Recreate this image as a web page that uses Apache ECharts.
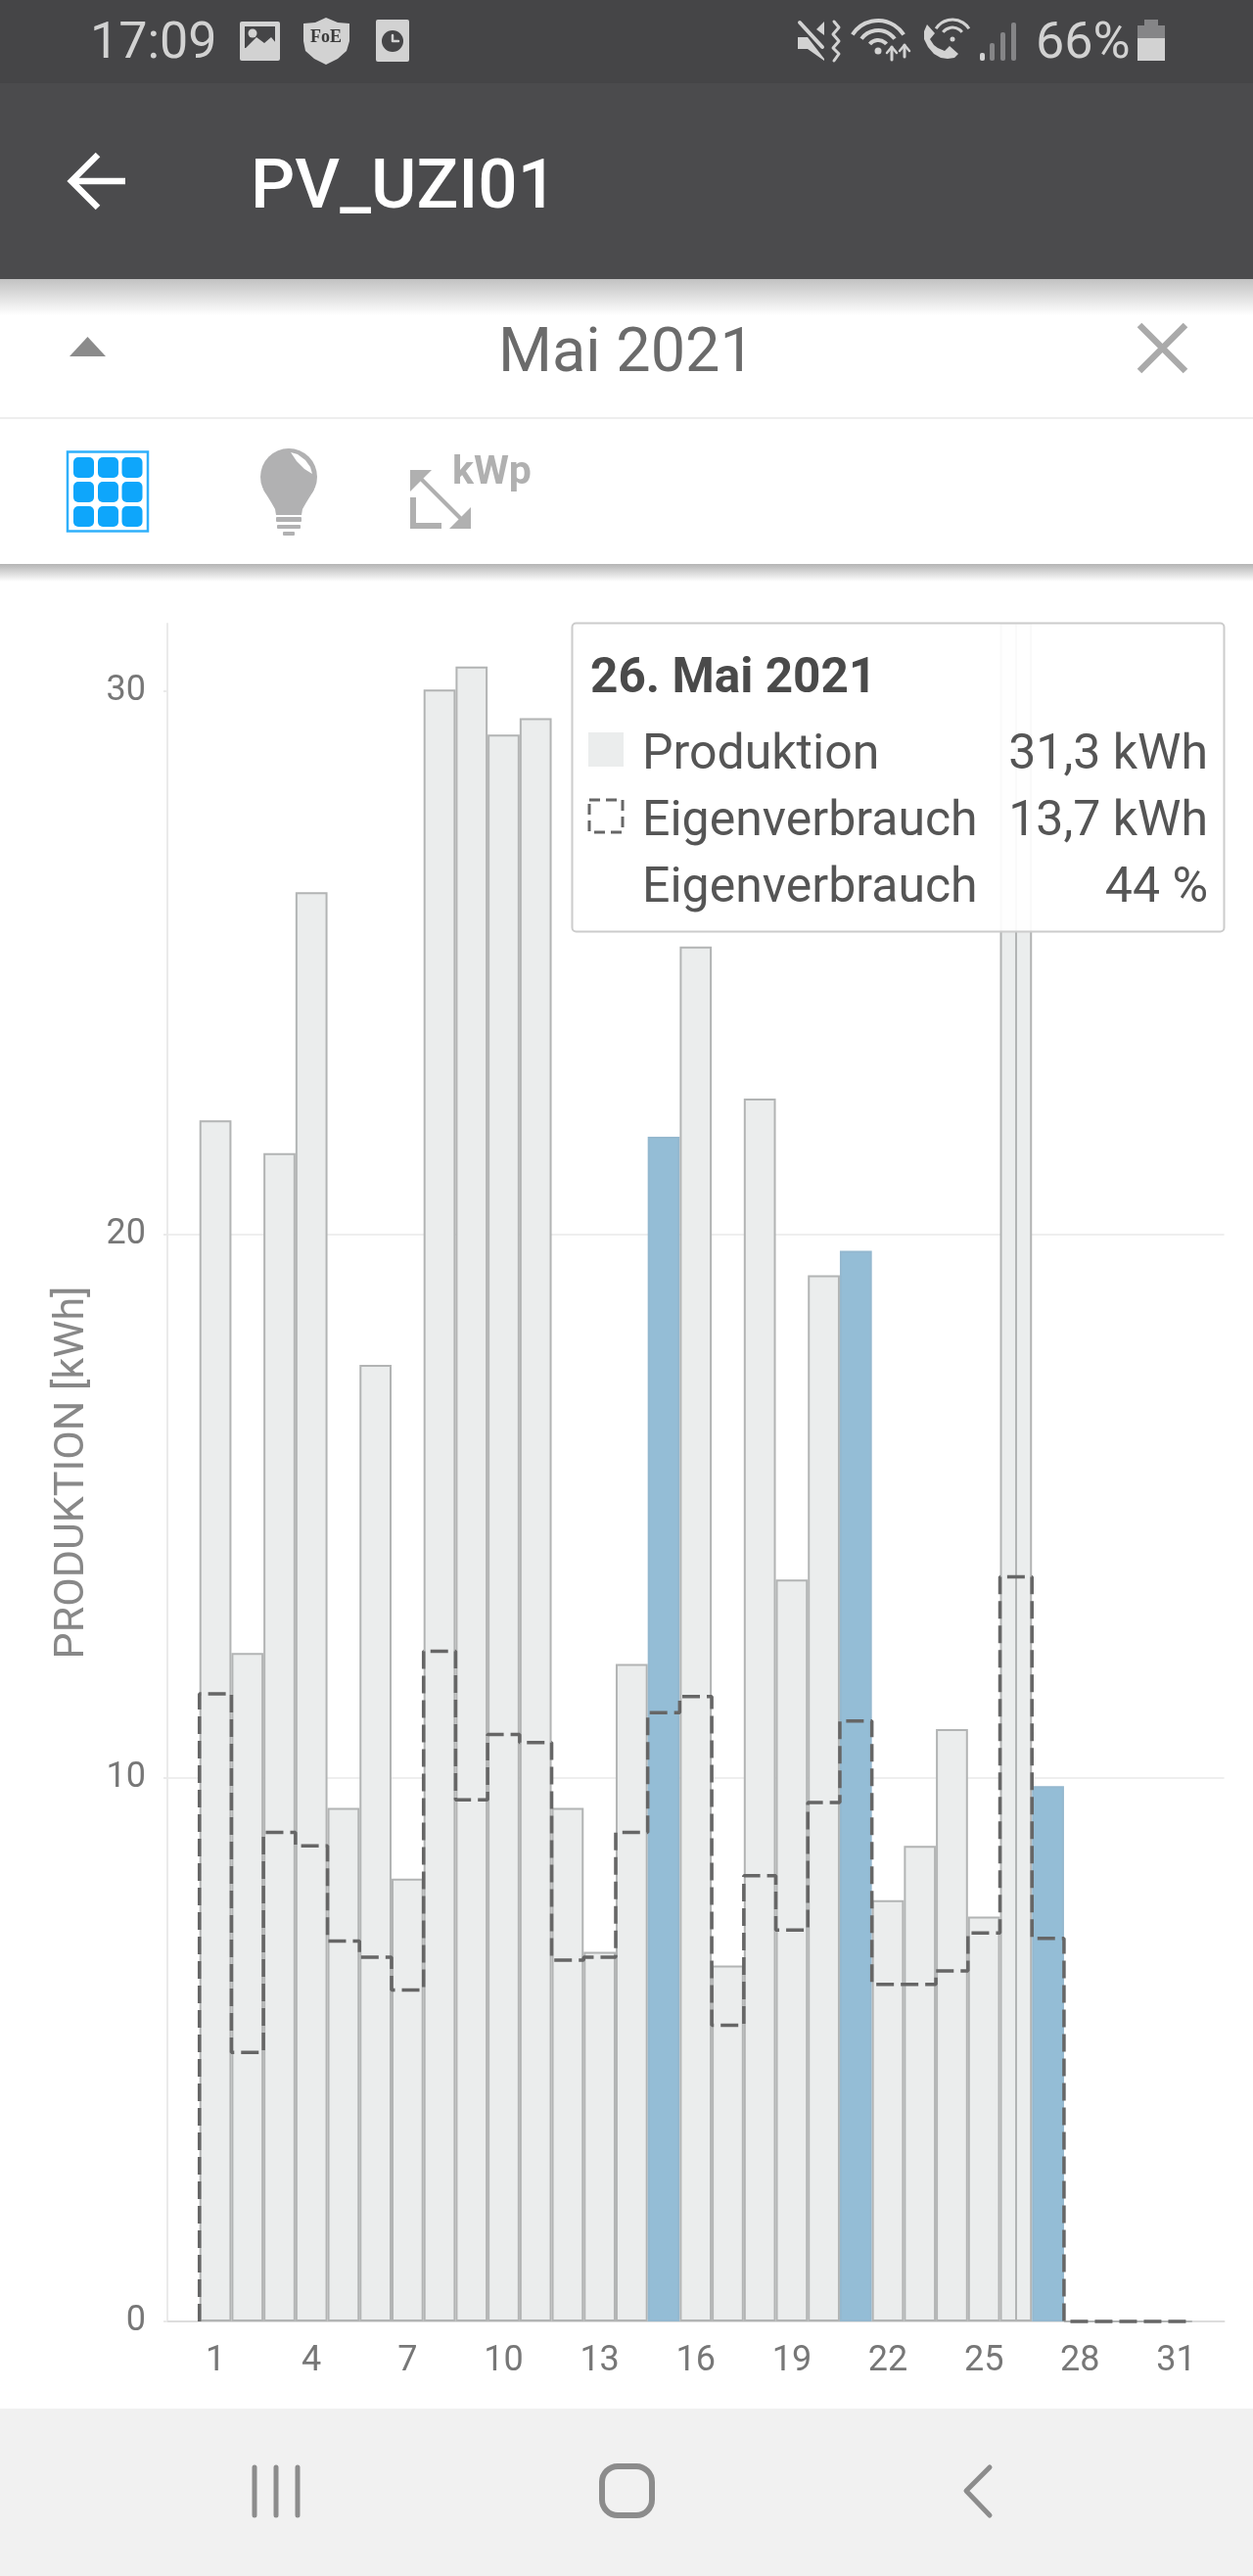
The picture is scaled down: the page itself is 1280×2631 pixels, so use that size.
<!DOCTYPE html>
<html><head><meta charset="utf-8">
<style>html,body{margin:0;padding:0;background:#fff}#c{width:1280px;height:2631px}</style>
<script src="https://cdn.jsdelivr.net/npm/echarts@6/dist/echarts.min.js"></script>
</head><body><div id="c"></div>
<script>
const days = ["",1,2,3,4,5,6,7,8,9,10,11,12,13,14,15,16,17,18,19,20,21,22,23,24,25,26,27,28,29,30,31,""];
const produktion = [22.1,12.3,21.5,26.3,9.45,17.6,8.15,30.03,30.45,29.2,29.5,9.45,6.8,12.1,21.8,25.3,6.55,22.5,13.65,19.25,19.7,7.75,8.75,10.9,7.45,31.3,9.85,0,0,0,0];
const eigenverbrauch = [11.55,4.95,9.0,8.75,7.0,6.7,6.1,12.33,9.6,10.8,10.65,6.65,6.7,9.0,11.2,11.5,5.45,8.2,7.2,9.55,11.05,6.2,6.2,6.45,7.15,13.7,7.05,0,0,0,0];
const highlightedDays = [15,21,27];
const yTicks = [0,10,20,30];
const selectedDay = "26";
const tooltipTitle = "26. Mai 2021";
const tooltipRows = [["Produktion","31,3 kWh"],["Eigenverbrauch","13,7 kWh"],["Eigenverbrauch","44 %"]];

const F = 'Roboto, sans-serif';
const barData = produktion.map((v,i)=> highlightedDays.includes(i+1)
  ? {value:v,itemStyle:{color:'#94bdd6',borderColor:'#94b8cf'}} : v);
const steps = [[1,0]];
eigenverbrauch.forEach((v,i)=>{steps.push([i+1,v]);steps.push([i+2,v]);});

const Z=50;
const rect=(x,y,w,h,fill,r,z)=>({type:'rect',z:z||Z,shape:{x,y,width:w,height:h,r:r||0},style:{fill}});
const text=(x,y,t,size,fill,align,weight,z,family)=>({type:'text',z:z||Z,x,y,style:{text:t,font:(weight||400)+' '+size+'px '+(family||F),fill,textAlign:align||'left',textVerticalAlign:'middle',textBaseline:'middle'}});
const poly=(pts,stroke,lw,z,extra)=>({type:'polyline',z:z||Z,shape:{points:pts},style:Object.assign({stroke,lineWidth:lw,fill:null,lineCap:'round',lineJoin:'round'},extra||{})});
const pg=(pts,fill,z)=>({type:'polygon',z:z||Z,shape:{points:pts},style:{fill}});
const circ=(cx,cy,r,fill,z)=>({type:'circle',z:z||Z,shape:{cx,cy,r},style:{fill}});
const arc=(cx,cy,r,a0,a1,stroke,lw,z)=>({type:'arc',z:z||Z,shape:{cx,cy,r,startAngle:a0,endAngle:a1},style:{stroke,lineWidth:lw,fill:null}});
const grad=(y0,y1,c0,c1,z)=>({type:'rect',z:z||Z,shape:{x:0,y:y0,width:1280,height:y1-y0},style:{fill:new echarts.graphic.LinearGradient(0,0,0,1,[{offset:0,color:c0},{offset:1,color:c1}])}});

const L='#d2d2d2', D='#454547', G='#b0b0b0';
const chrome=[
 rect(0,0,1280,85,D), rect(0,85,1280,200,'#4b4b4d'),
 grad(285,322,'#c2c2c2','#ffffff'),
 rect(0,426,1280,2,'#eeeeee'),
 grad(576,594,'#b4b4b4','#ffffff'),
 rect(0,2460,1280,171,'#f1f1f1',0,Z),
 // status bar left
 text(92,46,'17:09',52,L),
 rect(245,22,41,40,L,2), rect(250,27,31,22,D),
 circ(258,34,4.5,L), pg([[250,50],[262,38],[270,44],[277,38],[282,44],[282,56],[250,56]],L),
 pg([[310,24],[322,23],[333,18],[345,23],[357,24],[357,42],[354,52],[345,60],[333,66],[321,60],[312,52],[310,42]],L),
 text(333,38,'FoE',18,'#3a3a3a','center',700,Z,'"Liberation Serif", serif'),
 rect(384,20,34,43,L,2), circ(401,42,11,D), poly([[401,36],[401,42],[407,42]],L,2.5),
 // status bar right
 pg([[815,38],[825,38],[842,60],[842,62],[825,50],[815,50]],L),
 pg([[842,22],[842,36],[834,30]],L),
 poly([[817,23],[840,48]],L,4),
 poly([[852,22],[857,28],[851,35],[857,42],[851,49],[857,55],[852,62]],L,3),
 arc(897,52,31,-Math.PI*0.82,-Math.PI*0.18,L,4),
 arc(897,52,21,-Math.PI*0.80,-Math.PI*0.20,L,4),
 arc(897,52,11,-Math.PI*0.78,-Math.PI*0.22,L,4),
 circ(897,52,3.5,L),
 poly([[911,48],[911,61]],L,3), poly([[906,54],[911,48],[916,54]],L,2.5),
 poly([[924,46],[924,58]],L,3), poly([[919,52],[924,46],[929,52]],L,2.5),
 pg([[947,25],[955,34],[950,40],[954,46],[958,49],[965,52],[970,47],[979,55],[975,59],[968,60],[961,59],[954,55],[948,48],[944,40],[944,32]],L),
 arc(973,40,20,-Math.PI*0.82,-Math.PI*0.18,L,3),
 arc(973,40,12,-Math.PI*0.80,-Math.PI*0.20,L,3),
 circ(973,40,2.5,L),
 rect(1001,54,5,8,L,2), rect(1011,44,5,18,'#858587',2), rect(1022,33,5,29,'#858587',2), rect(1033,23,5,39,'#858587',2),
 text(1058,46,'66%',52,L),
 rect(1169,20,14,7,'#858587'), rect(1162,26,28,13,'#858587'), rect(1162,39,28,23,L),
 // header
 poly([[128,185],[74,185]],'#ffffff',6.5,Z,{lineCap:'butt'}),
 poly([[100,158],[73,185],[100,212]],'#ffffff',6.5,Z,{lineCap:'butt',lineJoin:'miter'}),
 text(256,194,'PV_UZI01',71,'#ffffff','left',500),
 // month row
 pg([[71,364],[108,364],[89.5,344]],'#8b8b8b'),
 text(640,363,'Mai 2021',63,'#6b6b6b','center'),
 poly([[1164,332],[1211,379]],'#aaaaaa',6.5,Z,{lineCap:'butt'}), poly([[1211,332],[1164,379]],'#aaaaaa',6.5,Z,{lineCap:'butt'}),
 // icons
 {type:'rect',z:Z,shape:{x:69,y:461.5,width:82,height:81},style:{stroke:'#2fb0fb',lineWidth:2.5,fill:'#fff'}},
];
[75,100,124.5].forEach(x=>[467,492,517].forEach(y=>chrome.push(rect(x,y,21,21,'#0ea6fb',5))));
chrome.push(
 circ(295,487,29,'#b1b1b2'),
 pg([[269,500],[321,500],[313,513],[309,520],[308,526],[282,526],[281,520],[277,513]],'#b1b1b2'),
 pg([[297,462],[304,464],[312,470],[317,477],[319,484],[311,479],[303,471]],'#ffffff'),
 rect(282,528,26,5,'#b1b1b2',1), rect(283,536,24,4,'#b1b1b2',1), rect(289,543,12,4,'#b1b1b2',1),
 text(462,484,'kWp',41,G,'left',700),
 poly([[422,508],[422,537],[451,537]],G,6,Z,{lineCap:'butt',lineJoin:'miter'}),
 poly([[425,484],[478,537]],G,4,Z,{lineCap:'butt'}),
 pg([[419,480],[441,480],[419,502]],G), pg([[481,540],[481,518],[459,540]],G),
 // nav
 poly([[260,2520],[260,2569]],'#8c8c8c',5), poly([[282,2520],[282,2569]],'#8c8c8c',5), poly([[304,2520],[304,2569]],'#8c8c8c',5),
 {type:'rect',z:Z,shape:{x:615,y:2519,width:51,height:50,r:16},style:{stroke:'#8c8c8c',lineWidth:6,fill:null}},
 poly([[1011,2520],[987,2544],[1011,2569]],'#8c8c8c',5)
);
// tooltip
const TZ=60;
chrome.push(
 {type:'rect',z:TZ,shape:{x:584.5,y:636.5,width:666,height:315,r:4},style:{fill:'rgba(255,255,255,0.92)',stroke:'#cccccc',lineWidth:2}},
 text(603,695,tooltipTitle,49.5,'#4a4a4a','left',700,TZ+1),
 rect(601,748,36,35,'#ebeded',0,TZ+1),
 {type:'rect',z:TZ+1,shape:{x:602,y:817,width:34,height:33},style:{stroke:'#666666',fill:null,lineWidth:3,lineDash:[11,6]}}
);
tooltipRows.forEach((r,i)=>{const y=772+68*i;
 chrome.push(text(656,y,r[0],50,'#555555','left',400,TZ+1), text(1234,y,r[1],50,'#555555','right',400,TZ+1));});

const chart=echarts.init(document.getElementById('c'),null,{renderer:'canvas'});
chart.setOption({
 animation:false,
 backgroundColor:'#ffffff',
 textStyle:{fontFamily:F},
 grid:{left:171,right:29.5,top:637,bottom:260,containLabel:false},
 xAxis:[
  {type:'category',data:days.map(String),boundaryGap:true,
   axisLine:{lineStyle:{color:'#dddddd',width:2}},
   axisTick:{alignWithLabel:true,length:5,interval:(i)=>i%3===1,lineStyle:{color:'#dddddd',width:2}},
   axisLabel:{interval:(i)=>i%3===1,fontSize:36,color:'#777777',margin:23,fontFamily:F},
   splitLine:{show:false}},
  {type:'value',min:0,max:days.length,show:false}
 ],
 yAxis:{type:'value',min:0,max:31.24,interval:10,
  name:'PRODUKTION [kWh]',nameLocation:'middle',nameGap:75,nameRotate:90,
  nameTextStyle:{fontSize:43,color:'#888888',fontFamily:F},
  axisLine:{show:true,lineStyle:{color:'#eaeaea',width:2}},
  axisTick:{show:true,length:4,customValues:yTicks,lineStyle:{color:'#eaeaea',width:2}},
  axisLabel:{customValues:yTicks,fontSize:36,color:'#777777',margin:22,padding:[0,0,10,0],fontFamily:F},
  splitLine:{show:true,showMaxLine:false,lineStyle:{color:'#eeeeee',width:2}}},
 graphic:{elements:chrome},
 series:[
  {type:'bar',name:'Produktion',xAxisIndex:0,data:[null].concat(barData,[null]),barWidth:'100%',
   itemStyle:{color:'#ebeded',borderColor:'#b2b4b4',borderWidth:2},
   markLine:{silent:true,symbol:'none',label:{show:false},animation:false,
     lineStyle:{color:'#b2b4b4',type:'solid',width:2},data:[{xAxis:selectedDay}]}},
  {type:'line',name:'Eigenverbrauch',xAxisIndex:1,data:steps,showSymbol:false,symbol:'none',z:5,clip:false,
   lineStyle:{color:'#666666',width:3.5,type:[18,7],cap:'butt'}}
 ]
});
</script></body></html>
